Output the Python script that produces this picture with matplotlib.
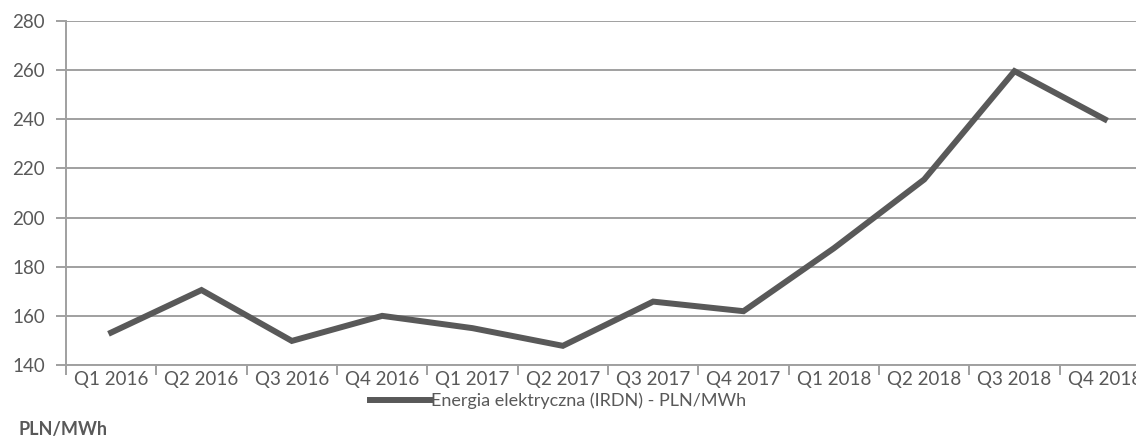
import matplotlib.pyplot as plt
import numpy as np

# dane
kwartaly = ['Q1 2016', 'Q2 2016', 'Q3 2016', 'Q4 2016',
            'Q1 2017', 'Q2 2017', 'Q3 2017', 'Q4 2017',
            'Q1 2018', 'Q2 2018', 'Q3 2018', 'Q4 2018']
ceny = [153.2, 170.5, 149.8, 160.0, 155.0, 147.8, 165.8, 161.9,
        187.5, 215.5, 259.6, 240.0]
y_ticks = [140, 160, 180, 200, 220, 240, 260, 280]

plt.rcParams['font.family'] = ['Lato', 'DejaVu Sans']
szary = '#595959'
siatka = '#a0a0a0'

fig = plt.figure(figsize=(11.36, 4.45), dpi=100)
ax = fig.add_axes([66 / 1136, 1 - 365 / 445, (1150 - 66) / 1136, (365 - 21) / 445])

x = np.arange(len(kwartaly))
ax.plot(x, ceny, color=szary, linewidth=4.3, solid_joinstyle='miter',
        label='Energia elektryczna (IRDN) - PLN/MWh')

ax.set_xlim(-0.5, len(kwartaly) - 0.5)
ax.set_ylim(140, 280)
ax.set_yticks(y_ticks)
ax.set_xticks(x)
ax.set_xticklabels(kwartaly)
ax.set_xticks(np.arange(-0.5, len(kwartaly), 1), minor=True)

ax.grid(True, axis='y', color=siatka, linewidth=1.4)
ax.set_axisbelow(True)
for s in ['top', 'right']:
    ax.spines[s].set_visible(False)
for s in ['left', 'bottom']:
    ax.spines[s].set_color(siatka)
    ax.spines[s].set_linewidth(1.4)

ax.tick_params(axis='y', length=7, width=1.4, color=siatka, labelcolor=szary,
               labelsize=13.5, pad=8)
ax.tick_params(axis='x', which='major', length=0, labelcolor=szary,
               labelsize=13.5, pad=4)
ax.tick_params(axis='x', which='minor', length=7, width=1.4, color=siatka)

leg = fig.legend(loc='center', bbox_to_anchor=(558 / 1136, 1 - 401 / 445),
                 frameon=False, fontsize=13, handlelength=3.3, handletextpad=0.05,
                 labelcolor=szary, borderpad=0)

fig.text(18 / 1136, 1 - 430 / 445, 'PLN/MWh', fontsize=13, fontweight='bold',
         color=szary, va='center', ha='left')

fig.savefig('out.png', dpi=100)
